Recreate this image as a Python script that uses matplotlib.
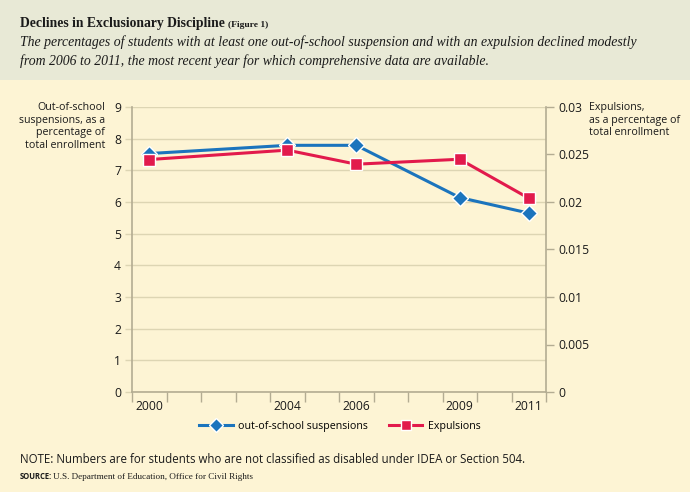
import matplotlib
matplotlib.use("Agg")
import matplotlib.pyplot as plt
from matplotlib.patches import Rectangle
from matplotlib.lines import Line2D

years = [2000, 2004, 2006, 2009, 2011]
suspensions = [7.53, 7.79, 7.79, 6.14, 5.65]
expulsions = [0.02447, 0.02546, 0.02398, 0.0245, 0.0204]
left_ticks = [0, 1, 2, 3, 4, 5, 6, 7, 8, 9]
right_ticks = [0, 0.005, 0.01, 0.015, 0.02, 0.025, 0.03]
right_tick_labels = ["0", "0.005", "0.01", "0.015", "0.02", "0.025", "0.03"]

BG = "#fdf4d4"
HEAD = "#e8e9d6"
BLUE = "#1b74bd"
RED = "#e21a4c"
GRID = "#ddd5b3"
SPINE = "#b3ac92"
TXT = "#1a1a1a"
SANS = ["Open Sans", "DejaVu Sans"]
SERIF = ["Liberation Serif", "DejaVu Serif"]

fig = plt.figure(figsize=(6.9, 4.92), dpi=100)
fig.patch.set_facecolor(BG)
fig.add_artist(Rectangle((0, 1 - 80 / 492), 1, 80 / 492, transform=fig.transFigure,
                         facecolor=HEAD, edgecolor="none", zorder=0))

def fx(px):
    return px / 690

def fy(py):
    return 1 - py / 492

title = fig.text(fx(20), fy(27), "Declines in Exclusionary Discipline", family=SERIF,
                 fontweight="bold", fontsize=9.8, color=TXT, va="baseline")
fig.text(fx(20), fy(46), "The percentages of students with at least one out-of-school suspension and with an expulsion declined modestly",
         family=SERIF, style="italic", fontsize=9.95, color=TXT, va="baseline")
fig.text(fx(20), fy(65), "from 2006 to 2011, the most recent year for which comprehensive data are available.",
         family=SERIF, style="italic", fontsize=9.95, color=TXT, va="baseline")

ax = fig.add_axes([fx(132), fy(392), fx(546) - fx(132), fy(107) - fy(392)])
ax.set_facecolor(BG)
ax.set_xlim(1999.5, 2011.5)
ax.set_ylim(0, 9)
ax.set_yticks(left_ticks)
ax.set_yticklabels([str(t) for t in left_ticks], family=SANS, fontsize=8.7, color=TXT)
ax.grid(axis="y", color=GRID, linewidth=1)
ax.set_axisbelow(True)
ax.tick_params(axis="y", length=5, color=GRID, width=1, pad=3)
ax.set_xticks(years)
ax.set_xticklabels([str(y) for y in years], family=SANS, fontsize=8.7, color=TXT)
ax.tick_params(axis="x", length=0, pad=6)
ax.set_xticks([1999.5 + i for i in range(13)], minor=True)
ax.tick_params(axis="x", which="minor", length=7, color=SPINE, width=1, direction="out")
for s in ["top", "right"]:
    ax.spines[s].set_visible(False)
for s in ["left", "bottom"]:
    ax.spines[s].set_color(SPINE)
    ax.spines[s].set_linewidth(1.2)

ax2 = ax.twinx()
ax2.set_ylim(0, 0.03)
ax2.set_yticks(right_ticks)
ax2.set_yticklabels(right_tick_labels, family=SANS, fontsize=8.7, color=TXT)
ax2.tick_params(axis="y", length=6, color=SPINE, width=1, pad=3)
for s in ["top", "left", "bottom"]:
    ax2.spines[s].set_visible(False)
ax2.spines["right"].set_color(SPINE)
ax2.spines["right"].set_linewidth(1.2)

ax.plot(years, suspensions, color=BLUE, lw=2.2, marker="D", ms=8,
        mfc=BLUE, mec="white", mew=1, zorder=3, clip_on=False)
ax2.plot(years, expulsions, color=RED, lw=2.2, marker="s", ms=8,
         mfc=RED, mec="white", mew=1, zorder=3, clip_on=False)

fig.text(fx(105), fy(102), "Out-of-school\nsuspensions, as a\npercentage of\ntotal enrollment",
         family=SANS, fontsize=7.7, color=TXT, ha="right", va="top", linespacing=1.2)
fig.text(fx(589), fy(102), "Expulsions,\nas a percentage of\ntotal enrollment",
         family=SANS, fontsize=7.7, color=TXT, ha="left", va="top", linespacing=1.2)

handles = [Line2D([], [], color=BLUE, lw=2.2, marker="D", ms=7, mec="white", mew=1),
           Line2D([], [], color=RED, lw=2.2, marker="s", ms=7, mec="white", mew=1)]
leg = fig.legend(handles, ["out-of-school suspensions", "Expulsions"], ncol=2,
                 loc="center", bbox_to_anchor=(fx(340), fy(426)), frameon=False,
                 prop={"family": SANS, "size": 7.7}, handlelength=3.1,
                 columnspacing=2.0, handletextpad=0.5)

fig.text(fx(20), fy(463), "NOTE: Numbers are for students who are not classified as disabled under IDEA or Section 504.",
         family=SANS, fontsize=8.3, color=TXT, va="baseline")
fig.text(fx(20), fy(479), "SOURCE:", family=SANS, fontsize=5.5, fontweight="bold",
         color=TXT, va="baseline")
fig.text(fx(53), fy(479), "U.S. Department of Education, Office for Civil Rights",
         family=SERIF, fontsize=6.6, color=TXT, va="baseline")

fig.canvas.draw()
bb = title.get_window_extent()
fig.text((bb.x1 + 3) / fig.bbox.width, fy(27), "(Figure 1)", family=SERIF,
         fontweight="bold", fontsize=6.8, color=TXT, va="baseline")

fig.savefig("out.png", dpi=100, facecolor=BG)
